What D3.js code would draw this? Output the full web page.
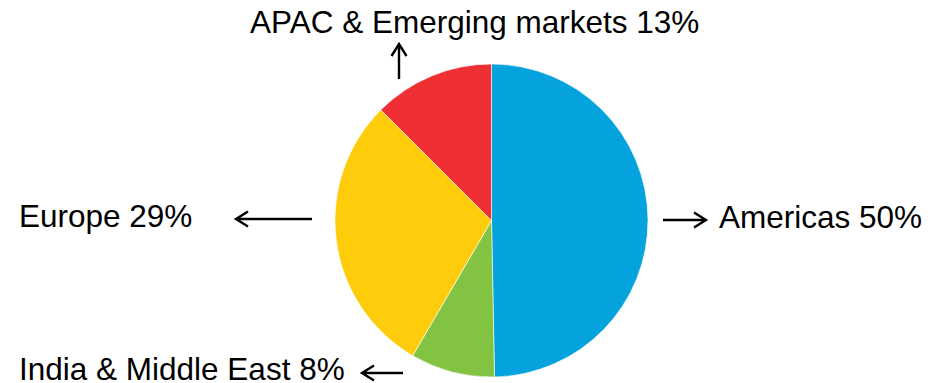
<!DOCTYPE html>
<meta charset="utf-8">
<html>
<head>
    <script src="https://cdn.jsdelivr.net/npm/d3@7"></script>
    <style>
        body { margin: 0; background: #fff; }
        text { font-family: "Liberation Sans", Arial, sans-serif; }
    </style>
</head>
<body>
    <div class="pie"></div>
    <script>
    // data (slice sizes, labels as printed)
    var regions = ["Americas", "India & Middle East", "Europe", "APAC & Emerging markets"];
    var shares = [49.7, 8.7, 29.1, 12.5];
    var labels = ["50%", "8%", "29%", "13%"];
    var colors = ["#05a3dd", "#82c341", "#fecc0a", "#ee3034"];

    var width = 944, height = 383;
    var cx = 491.5, cy = 220.5, radius = 156.5;

    // where each label + arrow goes (relative to page)
    var callouts = [
        {tx: 719, ty: 228, ax1: 663, ay1: 220, ax2: 706, ay2: 220},
        {tx: 19,  ty: 380, ax1: 403, ay1: 373, ax2: 362, ay2: 373},
        {tx: 19,  ty: 227, ax1: 312, ay1: 219, ax2: 236, ay2: 219},
        {tx: 250, ty: 33,  ax1: 399, ay1: 79,  ax2: 399, ay2: 44}
    ];

    var svg = d3.select(".pie").append("svg")
        .attr("width", width)
        .attr("height", height);

    var pie = d3.pie().sort(null).value(function(d){ return d; });
    var arc = d3.arc().innerRadius(0).outerRadius(radius);

    var g = svg.append("g")
        .attr("transform", "translate(" + cx + "," + cy + ")");

    g.selectAll(".slice")
        .data(pie(shares)).enter()
        .append("path")
        .attr("class", "slice")
        .attr("d", arc)
        .style("fill", function(d, i){ return colors[i]; })
        .style("stroke", "#fff")
        .style("stroke-width", 0.6);

    // arrows
    function arrowPath(c) {
        var dx = c.ax2 - c.ax1, dy = c.ay2 - c.ay1;
        var len = Math.sqrt(dx*dx + dy*dy);
        var ux = dx/len, uy = dy/len;
        var hl = 12, hw = 7.5;
        var bx = c.ax2 - ux*hl, by = c.ay2 - uy*hl;
        return "M" + c.ax1 + "," + c.ay1 + "L" + c.ax2 + "," + c.ay2 +
            "M" + (bx - uy*hw) + "," + (by + ux*hw) + "L" + c.ax2 + "," + c.ay2 +
            "L" + (bx + uy*hw) + "," + (by - ux*hw);
    }

    svg.selectAll(".arrow")
        .data(callouts).enter()
        .append("path")
        .attr("class", "arrow")
        .attr("d", arrowPath)
        .style("fill", "none")
        .style("stroke", "#000")
        .style("stroke-width", 2.4);

    svg.selectAll(".label")
        .data(callouts).enter()
        .append("text")
        .attr("class", "label")
        .attr("x", function(d){ return d.tx; })
        .attr("y", function(d){ return d.ty; })
        .style("font-size", "31.5px")
        .style("fill", "#000")
        .text(function(d, i){ return regions[i] + " " + labels[i]; });
    </script>
</body>
</html>
